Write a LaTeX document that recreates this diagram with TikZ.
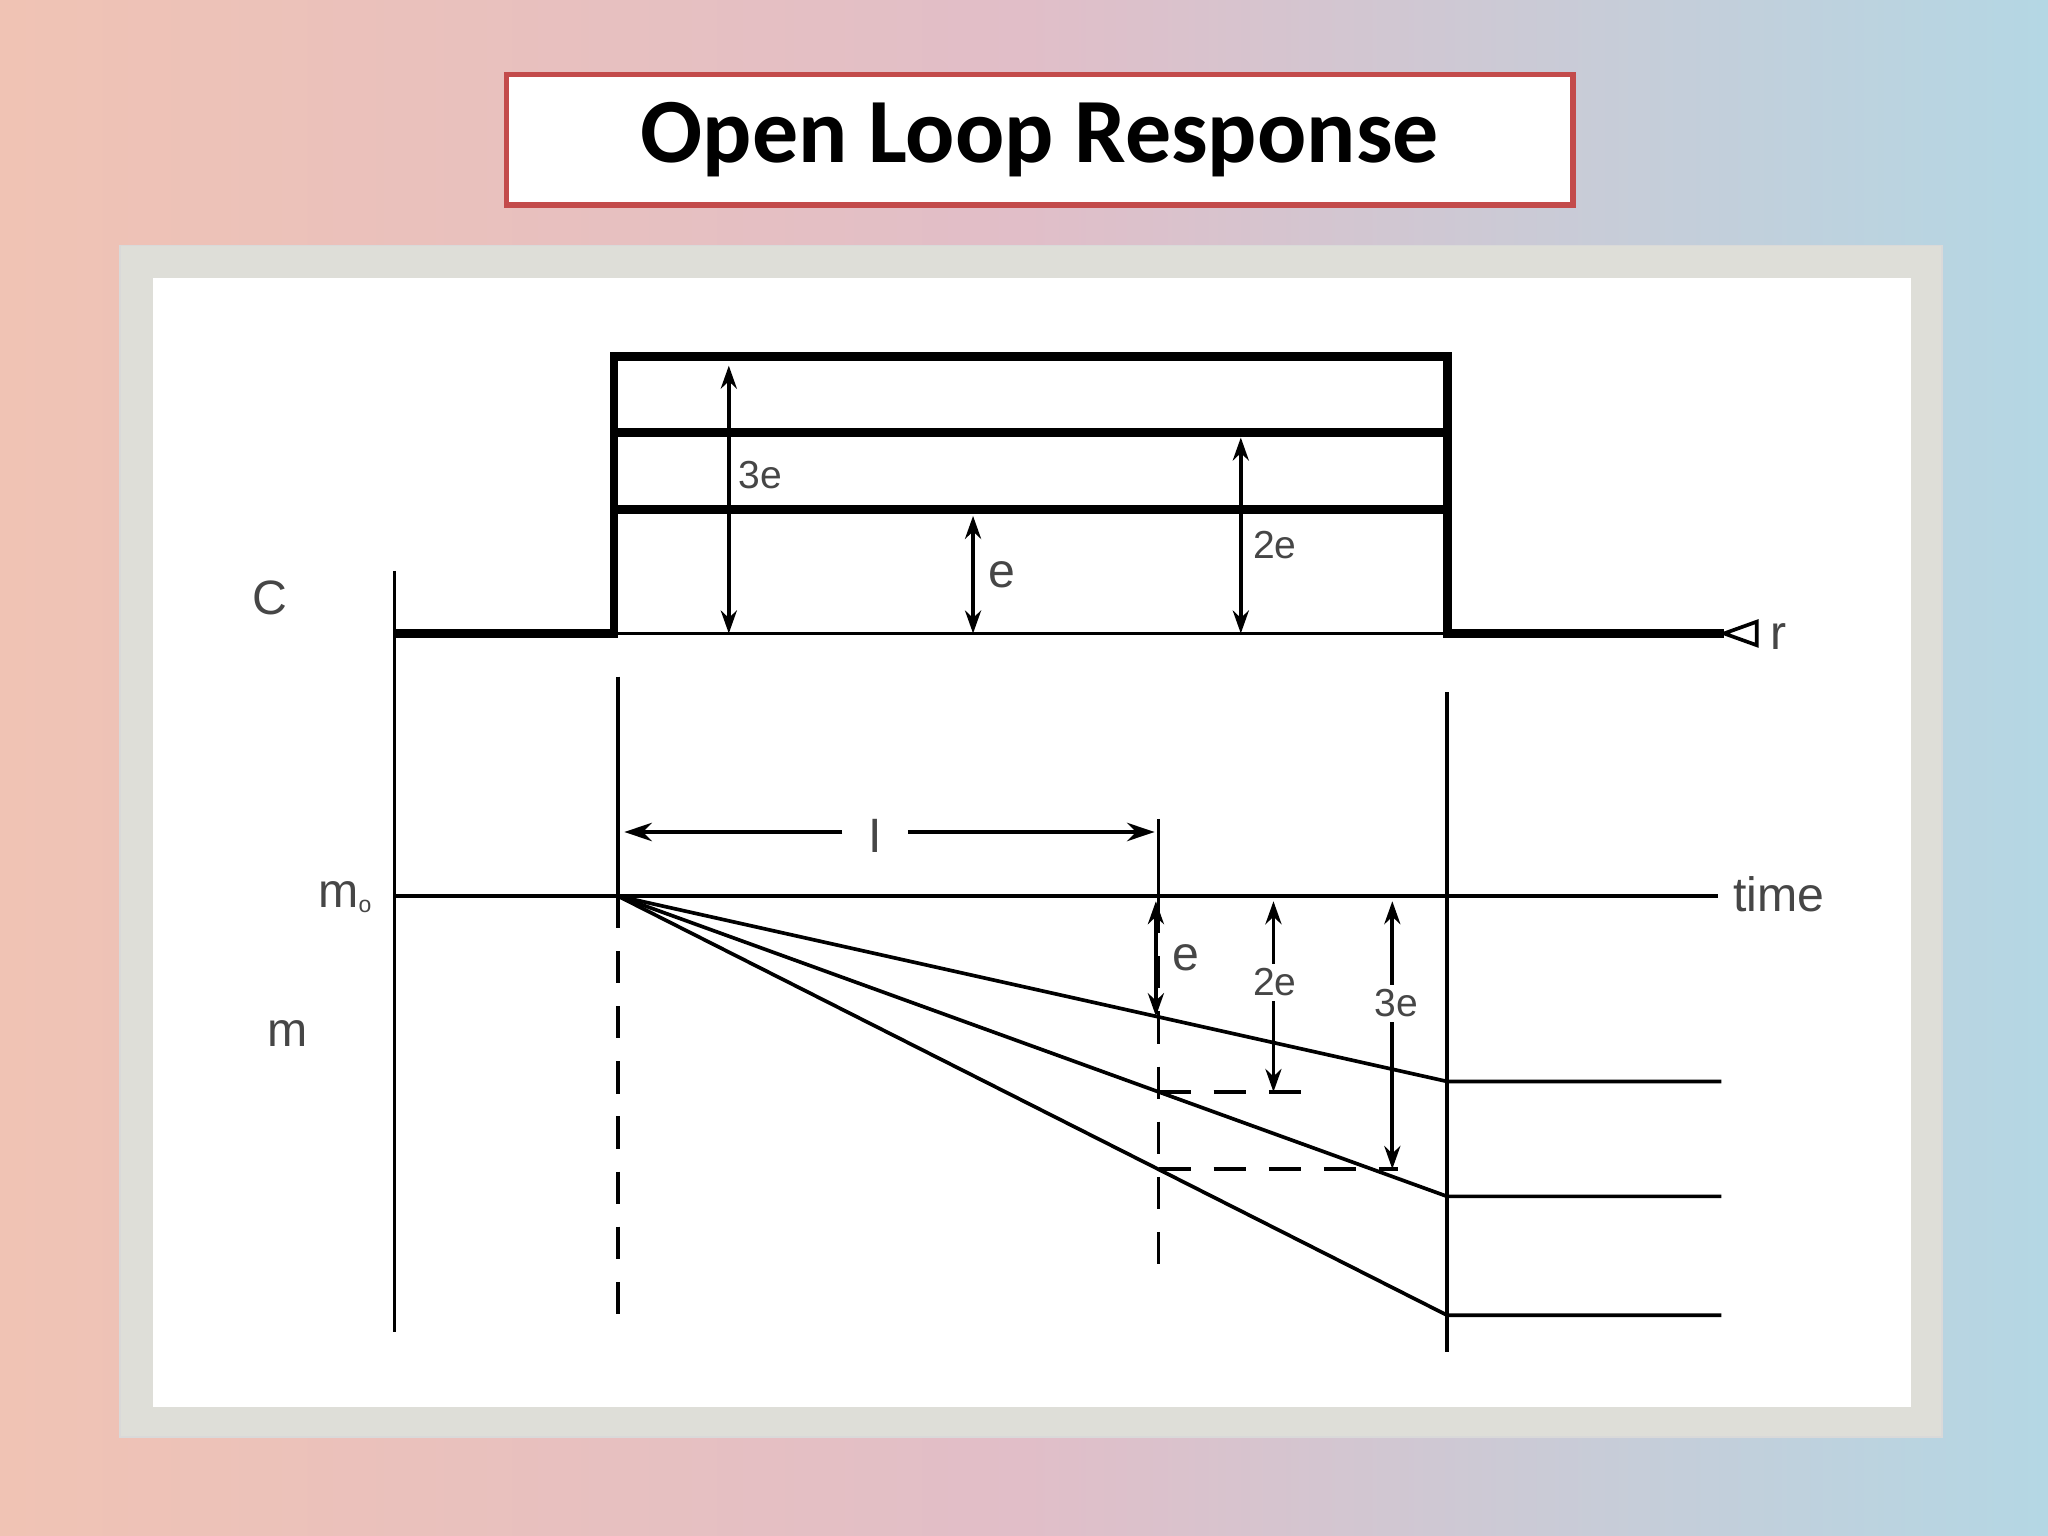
\documentclass[tikz,border=0pt]{standalone}
\usepackage{fontspec}
\setmainfont{Liberation Sans}
\newfontfamily\titlefont{Carlito}
\usetikzlibrary{arrows.meta}
\definecolor{bgL}{RGB}{240,195,180}
\definecolor{bgM}{RGB}{225,190,200}
\definecolor{bgR}{RGB}{180,215,228}
\definecolor{frameC}{RGB}{222,222,216}
\definecolor{redB}{RGB}{195,75,75}
\definecolor{lab}{RGB}{70,70,70}
\tikzset{thk/.style={line width=1.9pt},thn/.style={line width=0.8pt},
 dsh/.style={line width=0.8pt,dash pattern=on 7pt off 5pt},
 dbl/.style={line width=0.8pt,{Stealth[length=5pt,width=3.5pt]}-{Stealth[length=5pt,width=3.5pt]}},
 lbl/.style={text=lab,font=\fontsize{8.5}{10}\selectfont},
 big/.style={text=lab,font=\fontsize{10.5}{12}\selectfont}}
\begin{document}
\begin{tikzpicture}[x=0.01cm,y=-0.01cm]
\useasboundingbox (0,0) rectangle (1568,1176);
\shade[left color=bgL,right color=bgR,middle color=bgM] (0,0) rectangle (1568,1176);
\fill[frameC,draw=black!15] (92,188) rectangle (1487,1100);
\fill[white] (117,213) rectangle (1463,1077);
\node[draw=redB,line width=1.2pt,fill=white,minimum width=8.16cm,minimum height=1cm,font=\titlefont\bfseries\fontsize{20}{24}\selectfont] (title) at (796,107) {Open Loop Response};
% axes
\draw[thn] (302,437) -- (302,1020);
\node[big] (C) at (207,458) {C};
\draw[thk] (302,485) -- (470,485) -- (470,273) -- (1108,273) -- (1108,485) -- (1320,485);
\draw[thk] (470,331) -- (1108,331);
\draw[thk] (470,390) -- (1108,390);
\draw[thn] (470,485) -- (1108,485);
\draw[thn] (1320,485) -- (1345,476) -- (1345,494) -- cycle;
\node[big] (r) at (1362,487) {r};
\draw[dbl] (558,280) -- (558,485); \node[lbl] (l3e) at (582,364) {3e};
\draw[dbl] (745,395) -- (745,485); \node[big] (le) at (767,440) {e};
\draw[dbl] (950,335) -- (950,485); \node[lbl] (l2e) at (976,417) {2e};
% lower
\draw[thn] (473,518) -- (473,686);
\draw[dsh] (473,686) -- (473,1020);
\draw[thn] (1108,530) -- (1108,1035);
\draw[thn] (887,627) -- (887,690);
\draw[dsh] (887,690) -- (887,970);
\node[big] (I) at (670,640) {I};
\draw[thn,-{Stealth[length=6pt,width=4pt]}] (645,637) -- (478,637);
\draw[thn,-{Stealth[length=6pt,width=4pt]}] (695,637) -- (884,637);
\draw[thn] (302,686) -- (1315,686);
\node[big] (time) at (1362,685) {time};
\node[big] (m0) at (264,687) {m\raisebox{-1pt}{\tiny o}};
\node[big] (m) at (220,791) {m};
\draw[thn] (473,686) -- (1108,828) -- (1318,828);
\draw[thn] (473,686) -- (1108,916) -- (1318,916);
\draw[thn] (473,686) -- (1108,1007) -- (1318,1007);
\draw[dbl] (885,690) -- (885,778); \node[big] (e2) at (908,733) {e};
\draw[dbl] (975,690) -- (975,836); \node[lbl,fill=white,inner sep=1pt] (e22) at (976,752) {2e};
\draw[dsh] (887,836) -- (1000,836);
\draw[dbl] (1066,690) -- (1066,895); \node[lbl,fill=white,inner sep=1pt] (e33) at (1069,768) {3e};
\draw[dsh] (887,895) -- (1070,895);
\end{tikzpicture}
\end{document}
